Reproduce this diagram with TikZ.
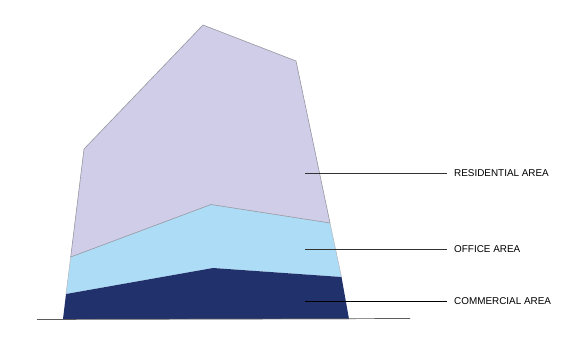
\documentclass[tikz,border=0pt]{standalone}
\usepackage{fontspec}
\setmainfont{Liberation Sans}
\definecolor{resid}{RGB}{208,205,232}
\definecolor{office}{RGB}{173,221,246}
\definecolor{comm}{RGB}{33,49,107}
\definecolor{edge}{RGB}{150,150,160}
\definecolor{leader}{RGB}{50,50,50}
\begin{document}
\begin{tikzpicture}[x=1pt,y=-1pt,
  label/.style={anchor=west,inner sep=0pt,font=\fontsize{9.9}{11}\selectfont,text=black},
  leaderline/.style={draw=leader,line width=0.8pt}]
\useasboundingbox (0,0) rectangle (583,340);
% corner coordinates
\coordinate (tl) at (84,149);
\coordinate (top) at (203,25);
\coordinate (tr) at (296,61);
\coordinate (ro) at (330,223);
\coordinate (po) at (211,204.5);
\coordinate (lo) at (70.7,257);
\coordinate (rc) at (341.5,277);
\coordinate (pc) at (213,268);
\coordinate (lc) at (66,294);
\coordinate (br) at (349,319);
\coordinate (bl) at (63,319);
% areas
\fill[resid] (tl) -- (top) -- (tr) -- (ro) -- (po) -- (lo) -- cycle;
\fill[office] (lo) -- (po) -- (ro) -- (rc) -- (pc) -- (lc) -- cycle;
\fill[comm] (lc) -- (pc) -- (rc) -- (br) -- (bl) -- cycle;
\draw[edge,line width=0.6pt,line join=round] (lo) -- (tl) -- (top) -- (tr) -- (ro) -- (po) -- (lo);
\draw[edge!70,line width=0.5pt] (lo) -- (lc);
\draw[edge!70,line width=0.5pt] (ro) -- (rc);
% ground
\coordinate (g1) at (37,319.5);
\coordinate (g2) at (410,318.5);
\draw[leader!80,line width=0.7pt] (g1) -- (g2);
% labels
\coordinate (a1) at (305,173.3);
\coordinate (a2) at (305,249);
\coordinate (a3) at (305,301);
\node[label] (n1) at (454,173.3) {RESIDENTIAL AREA};
\node[label] (n2) at (454,249) {OFFICE AREA};
\node[label] (n3) at (454,301) {COMMERCIAL AREA};
\draw[leaderline] (a1) -- ([xshift=-7pt]n1.west);
\draw[leaderline] (a2) -- ([xshift=-7pt]n2.west);
\draw[leaderline,draw=black] (a3) -- ([xshift=-7pt]n3.west);
\end{tikzpicture}
\end{document}
